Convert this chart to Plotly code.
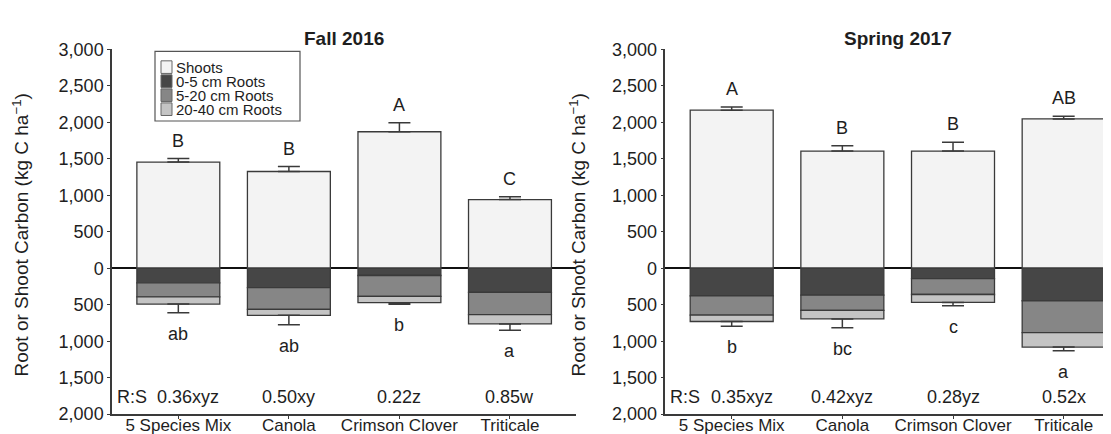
import plotly.graph_objects as go

# ---------------- data ----------------
categories = ["5 Species Mix", "Canola", "Crimson Clover", "Triticale"]
series_names = ["Shoots", "0-5 cm Roots", "5-20 cm Roots", "20-40 cm Roots"]

fall_shoots = [1455, 1325, 1870, 940]
fall_shoots_se = [48, 68, 122, 40]
fall_root_0_5 = [200, 265, 100, 332]
fall_root_5_20 = [192, 300, 285, 305]
fall_root_20_40 = [100, 80, 87, 126]
fall_root_se = [117, 130, 22, 87]
fall_shoot_letters = ["B", "B", "A", "C"]
fall_root_letters = ["ab", "ab", "b", "a"]
fall_rs = ["0.36xyz", "0.50xy", "0.22z", "0.85w"]

spring_shoots = [2165, 1605, 1605, 2046]
spring_shoots_se = [43, 72, 120, 35]
spring_root_0_5 = [380, 370, 142, 446]
spring_root_5_20 = [262, 208, 218, 438]
spring_root_20_40 = [88, 117, 109, 196]
spring_root_se = [65, 122, 44, 52]
spring_shoot_letters = ["A", "B", "B", "AB"]
spring_root_letters = ["b", "bc", "c", "a"]
spring_rs = ["0.35xyz", "0.42xyz", "0.28yz", "0.52x"]

y_tickvals = [3000, 2500, 2000, 1500, 1000, 500, 0, -500, -1000, -1500, -2000]
panel_titles = ["Fall 2016", "Spring 2017"]

# ---------------- style ----------------
W, H = 1111, 434
FONT = "Liberation Sans, Arial, Helvetica, sans-serif"
TXT = "#1e1e1e"
EDGE = "#3a3a3a"
colors = ["#f3f3f3", "#464646", "#868686", "#c4c4c4"]
BAR_W = 0.75

fig = go.Figure()

panels = [
    dict(shoots=fall_shoots, sse=fall_shoots_se,
         roots=[fall_root_0_5, fall_root_5_20, fall_root_20_40], rse=fall_root_se,
         sl=fall_shoot_letters, rl=fall_root_letters, rs=fall_rs,
         xa="x", ya="y"),
    dict(shoots=spring_shoots, sse=spring_shoots_se,
         roots=[spring_root_0_5, spring_root_5_20, spring_root_20_40], rse=spring_root_se,
         sl=spring_shoot_letters, rl=spring_root_letters, rs=spring_rs,
         xa="x2", ya="y2"),
]

annotations = []
for p in panels:
    # shoots
    fig.add_trace(go.Bar(
        x=categories, y=p["shoots"], name=series_names[0], width=BAR_W,
        marker=dict(color=colors[0], line=dict(color=EDGE, width=1.3)),
        error_y=dict(type="data", symmetric=False, array=p["sse"],
                     arrayminus=[0] * 4, color=EDGE, thickness=1.5, width=11),
        xaxis=p["xa"], yaxis=p["ya"], showlegend=False))
    # roots (negative, stacked)
    for i, r in enumerate(p["roots"]):
        kw = {}
        if i == 2:
            kw["error_y"] = dict(type="data", symmetric=False, array=[0] * 4,
                                 arrayminus=p["rse"], color=EDGE, thickness=1.5, width=11)
        fig.add_trace(go.Bar(
            x=categories, y=[-v for v in r], name=series_names[i + 1], width=BAR_W,
            marker=dict(color=colors[i + 1], line=dict(color=EDGE, width=1.3)),
            xaxis=p["xa"], yaxis=p["ya"], showlegend=False, **kw))
    # letters
    for j, c in enumerate(categories):
        top = p["shoots"][j] + p["sse"][j]
        annotations.append(dict(x=c, y=top, xref=p["xa"], yref=p["ya"], text=p["sl"][j],
                                showarrow=False, yanchor="middle", yshift=18,
                                font=dict(size=18, color=TXT, family=FONT)))
        bot = -(p["roots"][0][j] + p["roots"][1][j] + p["roots"][2][j] + p["rse"][j])
        annotations.append(dict(x=c, y=bot, xref=p["xa"], yref=p["ya"], text=p["rl"][j],
                                showarrow=False, yanchor="middle", yshift=-21,
                                font=dict(size=18, color=TXT, family=FONT)))
        annotations.append(dict(x=c, y=-1765, xref=p["xa"], yref=p["ya"], text=p["rs"][j],
                                showarrow=False, yanchor="middle", xshift=10 if j == 0 else 0,
                                font=dict(size=18, color=TXT, family=FONT)))
    annotations.append(dict(x=-0.6, y=-1765, xref=p["xa"], yref=p["ya"], text="R:S",
                            showarrow=False, xanchor="left", yanchor="middle", xshift=3,
                            font=dict(size=18, color=TXT, family=FONT)))

# panel titles
title_x = [336, 890]
for t, xpx in zip(panel_titles, title_x):
    annotations.append(dict(x=xpx / W, y=1 - 21 / H, xref="paper", yref="paper",
                            text=f"<b>{t}</b>", showarrow=False,
                            xanchor="center", yanchor="middle",
                            font=dict(size=19, color=TXT, family=FONT)))
# y axis titles
ytitle = "Root or Shoot Carbon (kg C ha<sup>−1</sup>)"
for xpx in (13, 570):
    annotations.append(dict(x=xpx / W, y=1 - 228 / H, xref="paper", yref="paper", text=ytitle,
                            showarrow=False, textangle=-90, xanchor="center", yanchor="middle",
                            font=dict(size=19, color=TXT, family=FONT)))

# custom legend (left panel)
shapes = []
lx0, lx1, ly0, ly1 = 147, 292, 35, 108
shapes.append(dict(type="rect", xref="paper", yref="paper",
                   x0=lx0 / W, x1=lx1 / W, y0=1 - ly1 / H, y1=1 - ly0 / H,
                   line=dict(color="#555555", width=1.2), fillcolor="white", layer="above"))
for k, nm in enumerate(series_names):
    cy = 51.5 + k * 14.7
    shapes.append(dict(type="rect", xref="paper", yref="paper",
                       x0=153 / W, x1=164 / W, y0=1 - (cy + 6.6) / H, y1=1 - (cy - 6.6) / H,
                       line=dict(color="#666666", width=1), fillcolor=colors[k], layer="above"))
    annotations.append(dict(x=166 / W, y=1 - cy / H, xref="paper", yref="paper", text=nm,
                            showarrow=False, xanchor="left", yanchor="middle",
                            font=dict(size=15, color=TXT, family=FONT)))

ydom = [1 - 415.3 / H, 1 - 32.8 / H]
yaxis_common = dict(
    range=[-2000, 3000], domain=ydom, tickvals=y_tickvals,
    ticktext=[f"{abs(v):,}" for v in y_tickvals],
    showline=True, linecolor=EDGE, linewidth=1.5, ticks="outside", ticklen=3,
    tickcolor=EDGE, showgrid=False, zeroline=True, zerolinecolor="#111111",
    zerolinewidth=1.5, tickfont=dict(size=18, color=TXT, family=FONT))
xaxis_common = dict(
    type="category", showline=True, linecolor=EDGE, linewidth=1.5, ticks="outside",
    ticklen=3, tickcolor=EDGE, showgrid=False, zeroline=False, ticklabelstandoff=-8,
    tickfont=dict(size=17, color=TXT, family=FONT))

fig.update_layout(
    width=W, height=H, barmode="relative", bargap=0.25,
    paper_bgcolor="white", plot_bgcolor="white",
    margin=dict(l=0, r=0, t=0, b=0),
    xaxis=dict(domain=[104 / W, 568.3 / W], range=[-0.6, 3.6], anchor="y", **xaxis_common),
    yaxis=dict(anchor="x", **yaxis_common),
    xaxis2=dict(domain=[657.3 / W, 1.0], range=[-0.6, 3.5], anchor="y2", **xaxis_common),
    yaxis2=dict(anchor="x2", **yaxis_common),
    annotations=annotations, shapes=shapes, showlegend=False,
)

fig.write_html("out.html")
